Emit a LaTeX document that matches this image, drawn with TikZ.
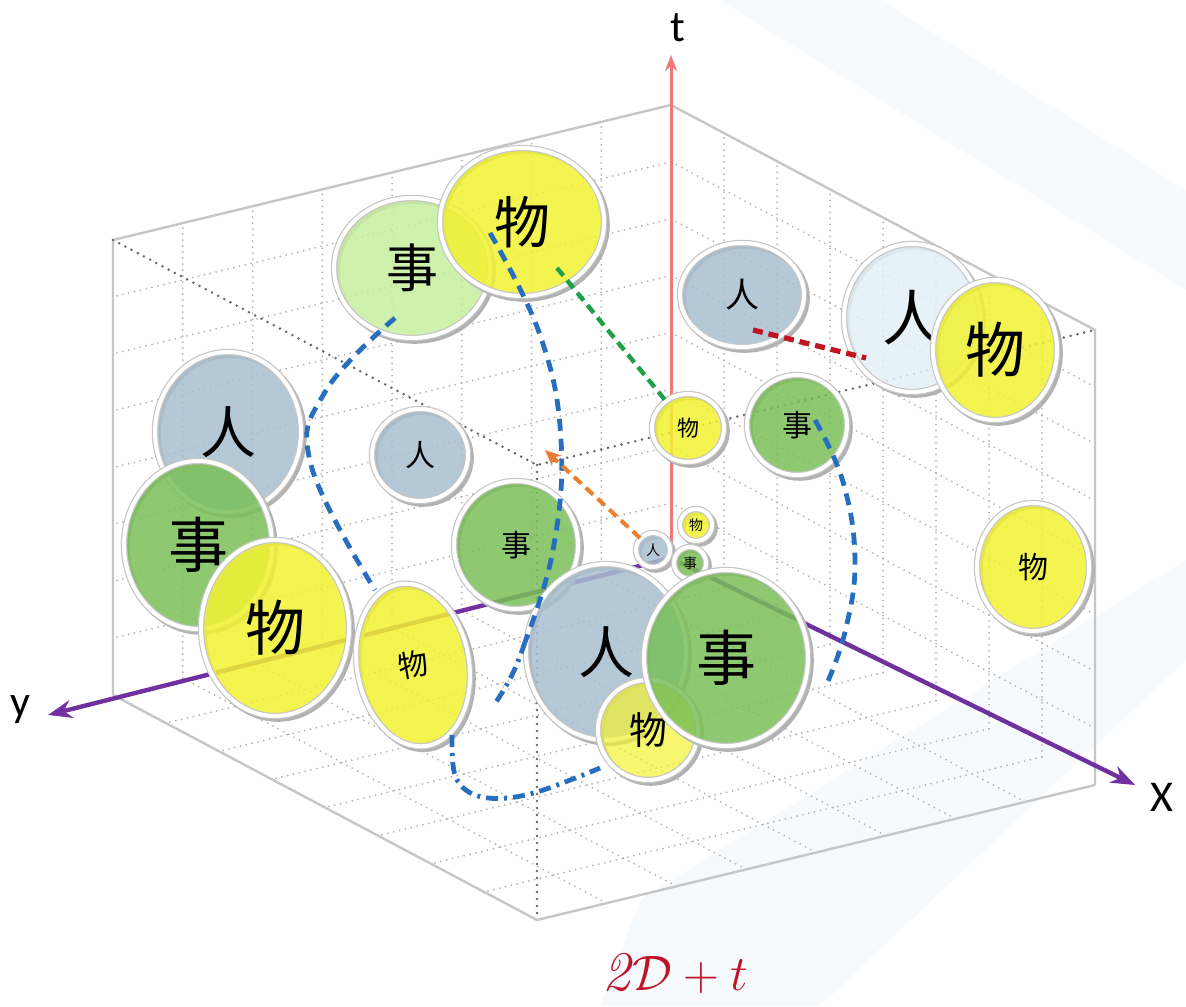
\documentclass[tikz,border=0pt]{standalone}
\usepackage{fontspec}
\usepackage{xcolor}
\usepackage{tikz}
\usetikzlibrary{arrows.meta,shapes.geometric}
\newfontfamily\cjk{Noto Sans CJK SC}
\newfontfamily\axisfont{Carlito}
\definecolor{wuyellow}{RGB}{242,242,50}
\definecolor{shigreen}{RGB}{122,192,88}
\definecolor{shilight}{RGB}{198,238,158}
\definecolor{renblue}{RGB}{168,190,206}
\definecolor{renpale}{RGB}{226,240,246}
\definecolor{pathblue}{RGB}{40,110,190}
\definecolor{pathgreen}{RGB}{30,160,70}
\definecolor{pathorange}{RGB}{237,125,49}
\definecolor{pathred}{RGB}{192,20,30}
\definecolor{axispurple}{RGB}{112,48,160}
\definecolor{axispink}{RGB}{240,120,120}
\definecolor{titlered}{RGB}{190,20,40}
\definecolor{wmark}{RGB}{247,250,253}

\begin{document}
\begin{tikzpicture}[
  x=0.5pt, y=-0.5pt,
  disc/.style={ellipse, inner sep=0pt, fill opacity=0.85, text opacity=1,
    draw=gray!45, line width=0.6pt, double=white, double distance=2pt,
    preaction={draw=gray!60, line width=3pt, transform canvas={shift={(1.4pt,-1.4pt)}}}},
  zi/.style={font=\cjk\fontsize{#1}{#1}\selectfont},
  gridline/.style={gray!60, line width=1pt, dash pattern=on 0pt off 3pt, line cap=round},
  frontedge/.style={black!60, line width=1.4pt, dash pattern=on 0pt off 3.5pt, line cap=round},
  boxedge/.style={gray!45, line width=1.2pt},
  taxis/.style={axispink, line width=1.5pt, -{Stealth[length=8pt, width=6pt]}},
  paxis/.style={axispurple, line width=2.2pt, -{Stealth[length=12pt, width=9pt]}},
  axislabel/.style={font=\axisfont\fontsize{22}{22}\selectfont},
  bluedash/.style={pathblue, line width=2.4pt, dash pattern=on 6pt off 4pt},
  bluedashdot/.style={pathblue, line width=2.4pt, dash pattern=on 6pt off 3pt on 1.5pt off 3pt},
  link/.style={line width=2.2pt, dash pattern=on 5pt off 3pt}
]
\useasboundingbox (0,0) rectangle (1186,1006);

% faint watermark
\fill[wmark] (600,1006) -- (640,900) -- (1186,560) -- (1186,660) -- (820,1006) -- cycle;
\fill[wmark] (720,0) -- (880,0) -- (1186,190) -- (1186,290) -- cycle;

% box with dotted grid
\begin{scope}[shift={(671,560)}, x={(212pt,-112.5pt)}, y={(-279pt,-67.5pt)}, z={(0pt,227.5pt)}]
  \foreach \i in {1,...,7} {
    \draw[gridline] (\i/8,0,0) -- (\i/8,0,1);
    \draw[gridline] (0,0,\i/8) -- (1,0,\i/8);
    \draw[gridline] (0,\i/8,0) -- (0,\i/8,1);
    \draw[gridline] (0,0,\i/8) -- (0,1,\i/8);
    \draw[gridline] (\i/8,0,0) -- (\i/8,1,0);
    \draw[gridline] (0,\i/8,0) -- (1,\i/8,0);
  }
  \draw[boxedge] (0,1,0) -- (0,1,1) -- (0,0,1) -- (1,0,1) -- (1,0,0);
  \draw[boxedge] (0,1,0) -- (1,1,0) -- (1,0,0);
  \draw[frontedge] (0,1,1) -- (1,1,1) -- (1,0,1) (1,1,1) -- (1,1,0);
\end{scope}

% axes
\coordinate (O) at (671,558);
\coordinate (tTip) at (671,55);
\coordinate (yTip) at (48,715);
\coordinate (xTip) at (1135,785);
\draw[taxis] (O) -- (tTip);
\draw[paxis] (O) -- (yTip);
\draw[paxis] (O) -- (xTip);
\node[axislabel] (tLab) at (678,28) {t};
\node[axislabel] (yLab) at (20,710) {y};
\node[axislabel] (xLab) at (1162,797) {X};

% discs
\node[disc, fill=shilight, minimum width=78pt, minimum height=70pt, zi=26] (shiA) at (412,268) {事};
\node[disc, fill=wuyellow, minimum width=82pt, minimum height=74pt, zi=28] (wuA) at (522,222) {物};
\node[disc, fill=renblue, minimum width=62pt, minimum height=52pt, zi=17] (renA) at (742,295) {人};
\node[disc, fill=renpale, minimum width=68pt, minimum height=74pt, zi=30] (renB) at (912,318) {人};
\node[disc, fill=wuyellow, minimum width=62pt, minimum height=70pt, zi=30] (wuB) at (995,350) {物};
\node[disc, fill=renblue, minimum width=73pt, minimum height=80pt, zi=28] (renC) at (228,432) {人};
\node[disc, fill=renblue, minimum width=48pt, minimum height=46pt, zi=15] (renD) at (420,455) {人};
\node[disc, fill=wuyellow, minimum width=36pt, minimum height=34pt, zi=11] (wuC) at (688,428) {物};
\node[disc, fill=shigreen, minimum width=50pt, minimum height=50pt, zi=15] (shiB) at (797,425) {事};
\node[disc, fill=shigreen, minimum width=74pt, minimum height=84pt, zi=30] (shiC) at (198,545) {事};
\node[disc, fill=wuyellow, minimum width=74pt, minimum height=88pt, zi=30] (wuF) at (275,628) {物};
\node[disc, fill=shigreen, minimum width=62pt, minimum height=64pt, zi=15] (shiD) at (516,545) {事};
\node[disc, fill=wuyellow, minimum width=56pt, minimum height=64pt, zi=15] (wuD) at (1033,567) {物};
\node[disc, fill=renblue, minimum width=17pt, minimum height=17pt, zi=7] (renE) at (653,550) {人};
\node[disc, fill=wuyellow, minimum width=16pt, minimum height=16pt, zi=7] (wuE) at (696,525) {物};
\node[disc, fill=shigreen, minimum width=16pt, minimum height=16pt, zi=7] (shiE) at (690,563) {事};
\node[disc, fill=wuyellow, minimum width=56pt, minimum height=82pt, rotate=10, zi=15] (wuG) at (413,665) {物};
\node[disc, fill=renblue, minimum width=80pt, minimum height=88pt, zi=28] (renF) at (606,652) {人};
\node[disc, fill=wuyellow, minimum width=50pt, minimum height=50pt, zi=19, fill opacity=0.7] (wuH) at (648,730) {物};
\node[disc, fill=shigreen, minimum width=82pt, minimum height=88pt, zi=30] (shiF) at (726,658) {事};

% dashed paths
\coordinate (ba1) at (395,318);
\coordinate (ba2) at (375,590);
\draw[bluedash] plot[smooth, tension=0.7] coordinates {(ba1) (325,392) (311,465) (ba2)};
\coordinate (bb1) at (490,233);
\coordinate (bb2) at (525,642);
\coordinate (bb3) at (494,705);
\draw[bluedash] plot[smooth, tension=0.7] coordinates {(bb1) (540,335) (561,440) (553,550) (bb2)};
\draw[bluedashdot] (bb2) to[bend left=8] (bb3);
\coordinate (bj1) at (452,735);
\coordinate (bj2) at (600,768);
\draw[bluedashdot] plot[smooth, tension=0.6] coordinates {(bj1) (456,778) (482,797) (530,794) (bj2)};
\coordinate (bc1) at (815,420);
\coordinate (bc2) at (825,688);
\draw[bluedash] plot[smooth, tension=0.7] coordinates {(bc1) (843,482) (855,560) (845,632) (bc2)};

\coordinate (gStart) at (557,268);
\draw[link, pathgreen] (gStart) -- (wuC);
\coordinate (rStart) at (753,330);
\coordinate (rEnd) at (866,358);
\draw[link, pathred, line width=2.6pt] (rStart) -- (rEnd);
\coordinate (oTip) at (545,450);
\draw[link, pathorange, line width=2pt, -{Stealth[length=8pt, width=7pt]}] (renE) -- (oTip);

% caption
\node[text=titlered, font=\fontsize{28}{32}\selectfont] (cap) at (675,973) {\textit{2}$\mathcal{D}+t$};
\end{tikzpicture}
\end{document}
